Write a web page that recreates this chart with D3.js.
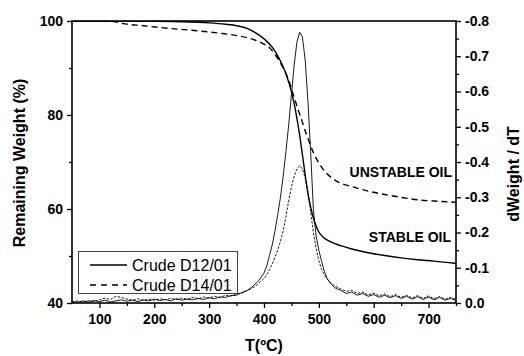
<!DOCTYPE html>
<html><head><meta charset="utf-8">
<script src="https://cdn.jsdelivr.net/npm/d3@7"></script>
<style>
body{margin:0;background:#fff;}
svg{display:block;font-family:"Liberation Sans",Arial,sans-serif;}
</style></head>
<body><svg id="c" width="524" height="356"></svg>
<script>
// ---- data ----
const tgTempsA = [50,100,150,200,250,300,330,350,370,380,390,400,410,420,430,440,450,455,460,465,470,475,480,485,490,495,500,510,520,540,560,590,620,650,680,710,750];
const tgWeightA = [100,100,100,99.95,99.85,99.6,99.3,99.0,98.4,97.8,97.1,96.2,95.1,93.6,91.5,88.8,85.0,82.4,79.3,75.7,71.6,67.3,63.4,60.4,58.1,56.4,55.1,53.8,53.1,52.2,51.5,50.7,50.1,49.6,49.2,48.9,48.4];
const tgTempsB = [50,100,125,140,180,230,280,320,350,380,400,410,420,435,445,453,462,469,477,484,490,500,514,530,562,590,624,654,684,710,739,750];
const tgWeightB = [100,100,99.9,99.5,99.0,98.4,97.9,97.4,96.9,96.1,95.1,94.3,92.9,90.0,87.4,84.5,81.2,78.8,76.0,73.8,72.0,69.8,67.6,66.1,64.7,63.8,63.0,62.4,61.9,61.7,61.5,61.4];
const dtgTemps = [50,60,70,80,90,100,110,120,130,140,150,160,170,180,190,200,210,220,230,240,250,260,270,280,290,300,310,320,330,340,350,360,370,380,390,400,
  405,410,415,420,425,430,435,440,445,450,455,460,465,470,475,480,485,490,495,500,505,510,515,520,
  530,540,550,560,570,580,590,600,610,620,630,640,650,660,670,680,690,700,710,720,730,740,750];
const dtgA = [-0.004,-0.002,-0.006,-0.003,-0.007,-0.004,-0.008,-0.003,-0.006,-0.009,-0.005,-0.008,-0.004,-0.009,-0.006,-0.011,-0.007,-0.010,-0.006,-0.012,-0.008,-0.011,-0.009,-0.013,-0.010,-0.015,-0.012,-0.017,-0.016,-0.021,-0.022,-0.030,-0.036,-0.048,-0.063,-0.085,
  -0.105,-0.135,-0.165,-0.205,-0.25,-0.30,-0.36,-0.43,-0.505,-0.59,-0.675,-0.74,-0.768,-0.755,-0.69,-0.575,-0.43,-0.265,-0.19,-0.15,-0.118,-0.09,-0.07,-0.058,
  -0.042,-0.036,-0.027,-0.031,-0.022,-0.027,-0.019,-0.024,-0.016,-0.022,-0.015,-0.021,-0.013,-0.019,-0.011,-0.018,-0.010,-0.017,-0.009,-0.016,-0.008,-0.013,-0.007];
const dtgB = [-0.003,-0.006,-0.002,-0.007,-0.004,-0.009,-0.014,-0.010,-0.019,-0.016,-0.011,-0.008,-0.012,-0.007,-0.011,-0.008,-0.012,-0.009,-0.013,-0.010,-0.014,-0.011,-0.016,-0.012,-0.017,-0.014,-0.019,-0.016,-0.022,-0.020,-0.026,-0.028,-0.036,-0.043,-0.055,-0.070,
  -0.08,-0.095,-0.11,-0.13,-0.15,-0.175,-0.205,-0.245,-0.29,-0.33,-0.36,-0.38,-0.39,-0.38,-0.355,-0.315,-0.26,-0.20,-0.155,-0.12,-0.095,-0.08,-0.068,-0.06,
  -0.047,-0.040,-0.033,-0.036,-0.027,-0.031,-0.023,-0.028,-0.020,-0.026,-0.018,-0.024,-0.016,-0.022,-0.014,-0.021,-0.013,-0.020,-0.012,-0.018,-0.011,-0.016,-0.010];
const seriesNames = ["Crude D12/01","Crude D14/01"];
const xTicks = [100,200,300,400,500,600,700];
const xMinor = [150,250,350,450,550,650,750];
const yTicks = [40,60,80,100];
const yMinor = [50,70,90];
const y2Ticks = [0,-0.1,-0.2,-0.3,-0.4,-0.5,-0.6,-0.7,-0.8];
const y2Minor = [-0.05,-0.15,-0.25,-0.35,-0.45,-0.55,-0.65,-0.75];
const annotations = ["UNSTABLE OIL","STABLE OIL"];

// ---- layout ----
const L=72,R=456,T=21,B=303;
const svg=d3.select("#c");
const x=d3.scaleLinear().domain([50,750]).range([L,R]);
const y=d3.scaleLinear().domain([40,100]).range([B,T]);
const y2=d3.scaleLinear().domain([0,-0.8]).range([B,T]);

function styleAxis(g,fs){
  g.select(".domain").remove();
  g.selectAll(".tick line").attr("stroke","#000").attr("stroke-width",1.3);
  g.selectAll(".tick text").attr("fill","#000").attr("font-size",fs).attr("font-weight","bold")
   .attr("font-family","'Liberation Sans',Arial,sans-serif");
}
// bottom
svg.append("g").attr("transform",`translate(0,${B})`)
  .call(d3.axisBottom(x).tickValues(xTicks).tickSize(5).tickPadding(6).tickFormat(d3.format("d")))
  .call(g=>styleAxis(g,14));
svg.append("g").attr("transform",`translate(0,${B})`)
  .call(d3.axisBottom(x).tickValues(xMinor).tickSize(3).tickFormat(""))
  .call(g=>styleAxis(g,14));
// left
svg.append("g").attr("transform",`translate(${L},0)`)
  .call(d3.axisLeft(y).tickValues(yTicks).tickSize(5).tickPadding(4).tickFormat(d3.format("d")))
  .call(g=>styleAxis(g,14));
svg.append("g").attr("transform",`translate(${L},0)`)
  .call(d3.axisLeft(y).tickValues(yMinor).tickSize(3).tickFormat(""))
  .call(g=>styleAxis(g,14));
// right
svg.append("g").attr("transform",`translate(${R},0)`)
  .call(d3.axisRight(y2).tickValues(y2Ticks).tickSize(5).tickPadding(4).tickFormat(v=>v===0?"0.0":v.toFixed(1)))
  .call(g=>styleAxis(g,14));
svg.append("g").attr("transform",`translate(${R},0)`)
  .call(d3.axisRight(y2).tickValues(y2Minor).tickSize(3).tickFormat(""))
  .call(g=>styleAxis(g,14));

// clip
svg.append("clipPath").attr("id","clip").append("rect").attr("x",L).attr("y",T).attr("width",R-L).attr("height",B-T);
const plot=svg.append("g").attr("clip-path","url(#clip)");

const lineTG=(ts,ws)=>d3.line().x((d,i)=>x(ts[i])).y(d=>y(d)).curve(d3.curveMonotoneX)(ws);
const lineDTG=(vs)=>d3.line().x((d,i)=>x(dtgTemps[i])).y(d=>y2(d)).curve(d3.curveLinear)(vs);

plot.append("path").attr("d",lineDTG(dtgB)).attr("fill","none").attr("stroke","#000").attr("stroke-width",0.9).attr("stroke-dasharray","2.5,1.5");
plot.append("path").attr("d",lineDTG(dtgA)).attr("fill","none").attr("stroke","#000").attr("stroke-width",0.9);
plot.append("path").attr("d",lineTG(tgTempsB,tgWeightB)).attr("fill","none").attr("stroke","#000").attr("stroke-width",1.4).attr("stroke-dasharray","6,4");
plot.append("path").attr("d",lineTG(tgTempsA,tgWeightA)).attr("fill","none").attr("stroke","#000").attr("stroke-width",1.4);

// frame
svg.append("rect").attr("x",L).attr("y",T).attr("width",R-L).attr("height",B-T).attr("fill","none").attr("stroke","#000").attr("stroke-width",1.6);

// annotations
svg.append("text").attr("x",452).attr("y",176.5).attr("text-anchor","end").attr("font-size",14).attr("font-weight","bold").text(annotations[0]);
svg.append("text").attr("x",451).attr("y",241.5).attr("text-anchor","end").attr("font-size",14).attr("font-weight","bold").text(annotations[1]);

// axis titles
svg.append("text").attr("transform","translate(24.5,163) rotate(-90)").attr("text-anchor","middle").attr("font-size",16).attr("font-weight","bold").text("Remaining Weight (%)");
svg.append("text").attr("transform","translate(519,174) rotate(-90)").attr("text-anchor","middle").attr("font-size",16).attr("font-weight","bold").text("dWeight / dT");
svg.append("text").attr("x",264).attr("y",351).attr("text-anchor","middle").attr("font-size",16).attr("font-weight","bold").text("T(ºC)");

// legend
const lg=svg.append("g");
lg.append("rect").attr("x",78.5).attr("y",251.5).attr("width",159).attr("height",42).attr("fill","#fff").attr("stroke","#444").attr("stroke-width",1);
[0,1].forEach(i=>{
  const yy=265+i*20;
  lg.append("line").attr("x1",90).attr("x2",127).attr("y1",yy).attr("y2",yy).attr("stroke","#000").attr("stroke-width",1.4)
    .attr("stroke-dasharray",i===1?"6,5":null);
  lg.append("text").attr("x",132).attr("y",yy+5.5).attr("font-size",16).text(seriesNames[i]);
});
</script></body></html>
